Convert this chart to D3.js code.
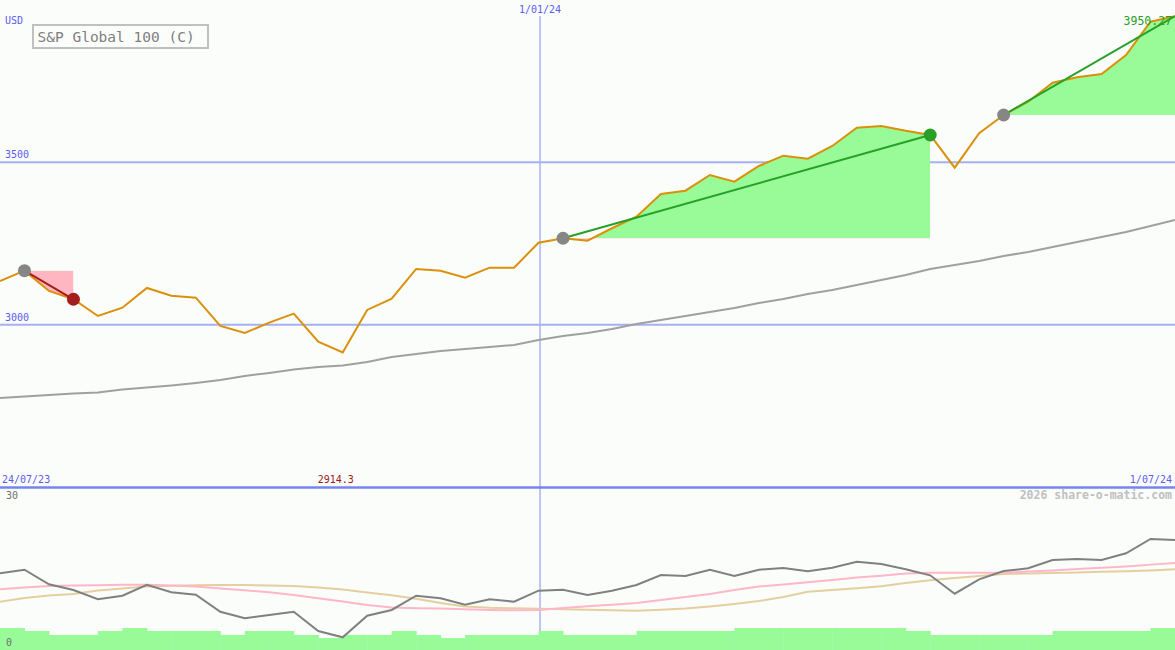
<!DOCTYPE html>
<html>
<head>
<meta charset="utf-8">
<script src="https://cdn.jsdelivr.net/npm/d3@7"></script>
<style>
  html, body { margin: 0; padding: 0; background: #fbfdfb; }
  svg { display: block; }
  text { font-family: "DejaVu Sans Mono", monospace; }
</style>
</head>
<body>
<div id="chart-container"></div>
<script>
// weekly closes, 49 points (index 0 = left edge, 48 = right edge)
var price = [3134.6, 3166.3, 3103.8, 3078.2, 3026.8, 3052.3, 3113.0, 3089.3, 3083.1, 2996.0,
             2974.4, 3006.1, 3033.9, 2947.6, 2914.3, 3045.3, 3080.1, 3171.5, 3166.3, 3144.7,
             3175.5, 3175.5, 3252.5, 3266.1, 3258.7, 3296.9, 3332.6, 3402.5, 3412.7, 3461.0,
             3440.4, 3488.8, 3520.5, 3511.2, 3550.3, 3606.7, 3612.0, 3597.5, 3584.2, 3483.5,
             3589.5, 3645.8, 3686.8, 3745.3, 3762.0, 3772.1, 3830.6, 3933.2, 3950.27];

// long moving average (grey)
var movAvg = [2774.2, 2778.9, 2783.5, 2788.1, 2791.2, 2800.4, 2806.6, 2812.7, 2820.4, 2829.7,
              2842.0, 2851.2, 2862.0, 2869.7, 2874.3, 2885.1, 2900.5, 2909.8, 2919.0, 2925.2,
              2931.3, 2937.5, 2952.9, 2965.2, 2974.4, 2986.7, 3002.1, 3014.5, 3026.8, 3039.1,
              3051.4, 3066.8, 3079.1, 3094.5, 3106.9, 3122.3, 3137.7, 3153.1, 3171.5, 3183.9,
              3196.2, 3211.6, 3223.9, 3239.3, 3254.7, 3270.1, 3285.5, 3303.9, 3322.4];

// lower panel (0..30)
var lowGrey = [14.20, 14.87, 12.17, 11.11, 9.39, 10.06, 12.09, 10.69, 10.24, 7.09,
               5.87, 6.48, 7.09, 3.52, 2.35, 6.35, 7.41, 10.06, 9.57, 8.39,
               9.39, 8.94, 10.98, 11.17, 10.19, 10.98, 12.04, 13.89, 13.70, 14.87,
               13.70, 14.87, 15.19, 14.57, 15.24, 16.35, 15.93, 14.94, 13.83, 10.43,
               13.09, 14.63, 15.13, 16.67, 16.85, 16.67, 17.91, 20.56, 20.37];
var lowPink = [11.24, 11.56, 11.85, 11.93, 12.00, 12.07, 12.07, 11.93, 11.74, 11.41,
               11.07, 10.70, 10.17, 9.59, 8.98, 8.33, 7.89, 7.74, 7.67, 7.56,
               7.41, 7.35, 7.41, 7.78, 8.11, 8.37, 8.70, 9.26, 9.81, 10.37,
               11.11, 11.78, 12.13, 12.56, 12.96, 13.43, 13.74, 14.17, 14.31, 14.31,
               14.31, 14.31, 14.52, 14.74, 15.00, 15.24, 15.48, 15.81, 16.11];
var lowTan = [8.94, 9.63, 10.09, 10.37, 11.02, 11.39, 11.76, 11.89, 11.98, 12.04,
              12.04, 11.96, 11.85, 11.57, 11.20, 10.65, 10.13, 9.48, 8.70, 8.06,
              7.81, 7.72, 7.63, 7.56, 7.44, 7.35, 7.28, 7.44, 7.69, 8.06,
              8.52, 9.07, 9.81, 10.80, 11.11, 11.43, 11.81, 12.41, 12.91, 13.33,
              13.70, 14.07, 14.17, 14.28, 14.35, 14.48, 14.59, 14.72, 14.94];

// volume blocks, one per week interval
var volume = [22, 19, 15, 15, 19, 22, 19, 19, 19, 15, 19, 19, 15, 12, 15, 15,
              19, 15, 12, 15, 15, 15, 19, 15, 15, 15, 19, 19, 19, 19, 22, 22,
              22, 22, 22, 22, 22, 19, 15, 15, 15, 15, 15, 19, 19, 19, 19, 22];

// trend segments (start index, end index)
var trendStart = [1, 23, 41];
var trendEnd = [3, 38, 48];

var priceTicks = [3000, 3500];
var lowTicks = [0, 30];
var dateLabels = ["24/07/23", "1/01/24", "1/07/24"];
var yearMarkIndex = 22;

var width = 1175, height = 650;
var mainBottom = 487;

var svg = d3.select("#chart-container")
    .append("svg")
    .attr("width", width)
    .attr("height", height);

svg.append("rect")
    .attr("width", width).attr("height", height)
    .attr("fill", "#fbfdfb");

var x = d3.scaleLinear().domain([0, price.length - 1]).range([0, width]);
var y = d3.scaleLinear().domain([2500, 4000]).range([mainBottom, 0]);
var yLow = d3.scaleLinear().domain([0, 30]).range([650, 488]);
var yVol = d3.scaleLinear().domain([0, 100]).range([650, 550]);

var blue = "#5b5bf5";

// grid lines
svg.selectAll(".grid")
    .data(priceTicks)
    .enter()
    .append("line")
    .attr("x1", 0).attr("x2", width)
    .attr("y1", d => y(d)).attr("y2", d => y(d))
    .attr("stroke", "#a6b1f2")
    .attr("stroke-width", 2);

svg.selectAll(".gridlab")
    .data(priceTicks)
    .enter()
    .append("text")
    .attr("x", 5)
    .attr("y", d => y(d) - 4)
    .attr("fill", blue)
    .style("font-size", "10px")
    .text(d => d);

// year marker
svg.append("line")
    .attr("x1", x(yearMarkIndex) + 1.5).attr("x2", x(yearMarkIndex) + 1.5)
    .attr("y1", 16).attr("y2", height)
    .attr("stroke", "#aab2ee")
    .attr("stroke-width", 1.5);

// volume blocks
svg.selectAll(".vol")
    .data(volume)
    .enter()
    .append("rect")
    .attr("x", (d, i) => x(i))
    .attr("width", (d, i) => x(i + 1) - x(i) + 0.5)
    .attr("y", d => yVol(d))
    .attr("height", d => yVol(0) - yVol(d))
    .attr("fill", "#98fb98");

// trend fills: green above the start level, pink below
var defs = svg.append("defs");
trendStart.forEach(function(s, k) {
    var e = trendEnd[k];
    var base = y(price[s]);
    var pts = d3.range(s, e + 1);

    var area = d3.area()
        .x(i => x(i))
        .y0(base)
        .y1(i => y(price[i]));

    defs.append("clipPath").attr("id", "up" + k)
        .append("rect")
        .attr("x", x(s)).attr("width", x(e) - x(s))
        .attr("y", 0).attr("height", base);
    defs.append("clipPath").attr("id", "dn" + k)
        .append("rect")
        .attr("x", x(s)).attr("width", x(e) - x(s))
        .attr("y", base).attr("height", mainBottom - base);

    svg.append("path").datum(pts)
        .attr("d", area)
        .attr("fill", "#98fb98")
        .attr("clip-path", "url(#up" + k + ")");
    svg.append("path").datum(pts)
        .attr("d", area)
        .attr("fill", "#ffb6c1")
        .attr("clip-path", "url(#dn" + k + ")");
});

var line = d3.line()
    .x((d, i) => x(i))
    .y(d => y(d));

svg.append("path")
    .datum(movAvg)
    .attr("d", line)
    .attr("fill", "none")
    .attr("stroke", "#a0a0a0")
    .attr("stroke-width", 2);

svg.append("path")
    .datum(price)
    .attr("d", line)
    .attr("fill", "none")
    .attr("stroke", "#da9009")
    .attr("stroke-width", 2);

// trend lines and dots
trendStart.forEach(function(s, k) {
    var e = trendEnd[k];
    var up = price[e] >= price[s];
    var col = up ? "#27a027" : "#a31d1d";

    svg.append("line")
        .attr("x1", x(s)).attr("y1", y(price[s]))
        .attr("x2", x(e)).attr("y2", y(price[e]))
        .attr("stroke", col)
        .attr("stroke-width", 2);

    svg.append("circle")
        .attr("cx", x(s)).attr("cy", y(price[s]))
        .attr("r", 6.5)
        .attr("fill", "#868686");

    if (e < price.length - 1) {
        svg.append("circle")
            .attr("cx", x(e)).attr("cy", y(price[e]))
            .attr("r", 6.5)
            .attr("fill", col);
    }
});

// lower panel lines
var lowLine = d3.line()
    .x((d, i) => x(i))
    .y(d => yLow(d));

[[lowTan, "#e4cf9e"], [lowPink, "#ffb6c8"], [lowGrey, "#808080"]].forEach(function(p) {
    svg.append("path")
        .datum(p[0])
        .attr("d", lowLine)
        .attr("fill", "none")
        .attr("stroke", p[1])
        .attr("stroke-width", 2);
});

// panel separator
svg.append("line")
    .attr("x1", 0).attr("x2", width)
    .attr("y1", mainBottom + 0.5).attr("y2", mainBottom + 0.5)
    .attr("stroke", "#7584ee")
    .attr("stroke-width", 2.5);

// texts
svg.append("text").attr("x", 5).attr("y", 24)
    .attr("fill", blue).style("font-size", "10px").text("USD");

svg.append("text").attr("x", x(yearMarkIndex) + 1.5).attr("y", 13)
    .attr("text-anchor", "middle")
    .attr("fill", blue).style("font-size", "10px").text(dateLabels[1]);

svg.append("text").attr("x", 2).attr("y", 483)
    .attr("fill", blue).style("font-size", "10px").text(dateLabels[0]);

svg.append("text").attr("x", 1172).attr("y", 483)
    .attr("text-anchor", "end")
    .attr("fill", blue).style("font-size", "10px").text(dateLabels[2]);

var minIdx = d3.minIndex(price);
svg.append("text").attr("x", x(minIdx) - 7).attr("y", 483)
    .attr("text-anchor", "middle")
    .attr("fill", "#a01818").style("font-size", "10px").text(price[minIdx]);

svg.append("text").attr("x", 1172).attr("y", 25)
    .attr("text-anchor", "end")
    .attr("fill", "#27a027").style("font-size", "11.5px").text(price[price.length - 1]);

svg.selectAll(".lowlab")
    .data(lowTicks)
    .enter()
    .append("text")
    .attr("x", 6)
    .attr("y", d => d === 0 ? 646 : 499)
    .attr("fill", "#707070")
    .style("font-size", "10px")
    .text(d => d);

svg.append("text").attr("x", 1172).attr("y", 499)
    .attr("text-anchor", "end")
    .attr("fill", "#c0c0c0")
    .style("font-size", "11.5px")
    .style("font-weight", "bold")
    .text("2026 share-o-matic.com");

// title box
svg.append("rect")
    .attr("x", 33).attr("y", 25)
    .attr("width", 175).attr("height", 23)
    .attr("fill", "none")
    .attr("stroke", "#c0c0c0")
    .attr("stroke-width", 2);

svg.append("text").attr("x", 37.5).attr("y", 42)
    .attr("fill", "#808080")
    .style("font-size", "14.5px")
    .text("S&P Global 100 (C)");
</script>
</body>
</html>
